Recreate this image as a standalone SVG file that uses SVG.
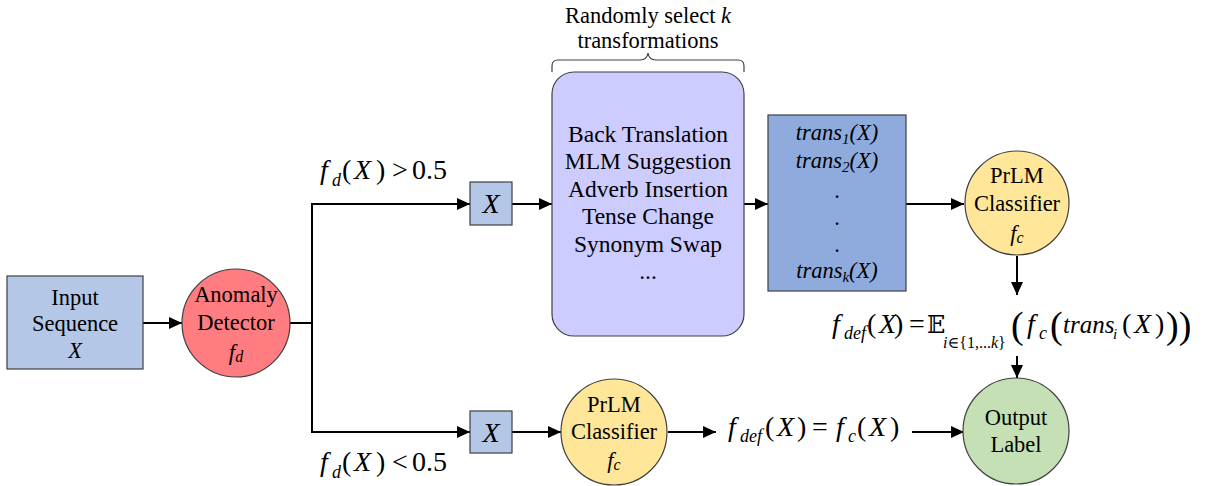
<svg xmlns="http://www.w3.org/2000/svg" width="1210" height="486" viewBox="0 0 1210 486">
<style>
  .t { font-family: 'Liberation Serif', 'Times New Roman', Times, 'DejaVu Serif', serif; font-size: 22.5px; fill: #000; text-anchor: middle; }
  .b { font-size: 23.5px; }
  .m { font-family: 'Liberation Serif', 'Times New Roman', Times, 'DejaVu Serif', serif; font-size: 28px; fill: #000; }
  .s { font-family: 'Liberation Serif', 'Times New Roman', Times, 'DejaVu Serif', serif; font-size: 18px; font-style: italic; fill: #000; }
  .i { font-style: italic; }
  .node { stroke: #404040; stroke-width: 1.2; }
  .conn { stroke: #000; stroke-width: 2; fill: none; }
  .arr { stroke: #000; stroke-width: 2; fill: none; marker-end: url(#ah); }
</style>
<defs>
  <marker id="ah" markerUnits="userSpaceOnUse" markerWidth="14" markerHeight="12" refX="13" refY="6" orient="auto">
    <path d="M0,0 L13,6 L0,12 Z" fill="#000"/>
  </marker>
</defs>
<rect width="1210" height="486" fill="#fff"/>

<g id="connectors">
  <line class="arr" x1="143" y1="323" x2="182" y2="323"/>
  <line class="conn" x1="290" y1="323" x2="312" y2="323"/>
  <line class="conn" x1="312" y1="203" x2="312" y2="433"/>
  <line class="arr" x1="311" y1="204" x2="470" y2="204"/>
  <line class="arr" x1="311" y1="432" x2="470" y2="432"/>
  <line class="arr" x1="512" y1="204" x2="552" y2="204"/>
  <line class="arr" x1="744" y1="204" x2="768" y2="204"/>
  <line class="arr" x1="906" y1="204" x2="964" y2="204"/>
  <line class="arr" x1="1017" y1="256" x2="1017" y2="295"/>
  <line class="arr" x1="1017" y1="356" x2="1017" y2="378"/>
  <line class="arr" x1="512" y1="432" x2="561" y2="432"/>
  <line class="arr" x1="668" y1="432" x2="716" y2="432"/>
  <line class="arr" x1="912" y1="432" x2="964" y2="432"/>
</g>

<g id="input">
  <rect class="node" x="7" y="276" width="136" height="93" fill="#b4c7e7"/>
  <text class="t" x="75" y="305">Input</text>
  <text class="t" x="75" y="331">Sequence</text>
  <text class="t i" x="75" y="358">X</text>
</g>

<g id="detector">
  <circle class="node" cx="236" cy="323" r="54" fill="#ff7c80"/>
  <text class="t" x="236" y="302">Anomaly</text>
  <text class="t" x="236" y="330">Detector</text>
  <text class="t i" x="236" y="360">f<tspan style="font-size:16px" dy="2">d</tspan></text>
</g>

<g id="label-gt">
  <text class="m i" x="320" y="179">f</text>
  <text class="s" x="332" y="186">d</text>
  <text class="m" x="342" y="179">(</text>
  <text class="m i" x="354" y="179">X</text>
  <text class="m" x="376" y="179">)</text>
  <text class="m" x="392" y="179">&gt;</text>
  <text class="m" x="412" y="179">0.5</text>
</g>

<g id="label-lt">
  <text class="m i" x="320" y="471">f</text>
  <text class="s" x="332" y="478">d</text>
  <text class="m" x="342" y="471">(</text>
  <text class="m i" x="354" y="471">X</text>
  <text class="m" x="376" y="471">)</text>
  <text class="m" x="392" y="471">&lt;</text>
  <text class="m" x="412" y="471">0.5</text>
</g>

<g id="x-top">
  <rect class="node" x="470" y="182" width="42" height="43" fill="#b4c7e7"/>
  <text class="m i" x="491" y="213" text-anchor="middle">X</text>
</g>

<g id="x-bottom">
  <rect class="node" x="470" y="411" width="42" height="42" fill="#b4c7e7"/>
  <text class="m i" x="491" y="442" text-anchor="middle">X</text>
</g>

<g id="transformations">
  <path d="M552,72 L552,66 Q552,60 558,60 L640,60 Q647,60 648,53 Q649,60 656,60 L738,60 Q744,60 744,66 L744,72" fill="none" stroke="#404040" stroke-width="1.2"/>
  <text class="t" x="648" y="23">Randomly select <tspan class="i">k</tspan></text>
  <text class="t" x="648" y="48">transformations</text>
  <rect class="node" x="552" y="72" width="192" height="264" rx="22" fill="#ccccff"/>
  <text class="t b" x="648" y="142">Back Translation</text>
  <text class="t b" x="648" y="169">MLM Suggestion</text>
  <text class="t b" x="648" y="197">Adverb Insertion</text>
  <text class="t b" x="648" y="224">Tense Change</text>
  <text class="t b" x="648" y="252">Synonym Swap</text>
  <text class="t b" x="648" y="279">...</text>
</g>

<g id="trans-outputs">
  <rect class="node" x="768" y="115" width="138" height="176" fill="#8faadc"/>
  <text class="t i" x="837" y="140">trans<tspan style="font-size:15px" dy="4">1</tspan><tspan dy="-4">(X)</tspan></text>
  <text class="t i" x="837" y="168">trans<tspan style="font-size:15px" dy="4">2</tspan><tspan dy="-4">(X)</tspan></text>
  <text class="t" x="837" y="198">.</text>
  <text class="t" x="837" y="225">.</text>
  <text class="t" x="837" y="252">.</text>
  <text class="t i" x="837" y="278">trans<tspan style="font-size:15px" dy="4">k</tspan><tspan dy="-4">(X)</tspan></text>
</g>

<g id="classifier-top">
  <circle class="node" cx="1017" cy="203" r="52" fill="#ffe699"/>
  <text class="t" x="1017" y="183">PrLM</text>
  <text class="t" x="1017" y="211">Classifier</text>
  <text class="t i" x="1017" y="241">f<tspan style="font-size:16px" dy="2">c</tspan></text>
</g>

<g id="formula-top">
  <text class="m i" x="832" y="333">f</text>
  <text class="s" x="844" y="339">def</text>
  <text class="m" x="867" y="333">(</text>
  <text class="m i" x="879" y="333">X</text>
  <text class="m" x="894" y="333">)</text>
  <text class="m" x="909" y="333">=</text>
  <text x="927" y="333" font-family="DejaVu Serif, DejaVu Sans, serif" font-size="24">𝔼</text>
  <text class="s" x="943" y="348" style="font-size:16px">i<tspan font-style="normal">∈{1,...</tspan>k<tspan font-style="normal">}</tspan></text>
  <text class="m" x="1011" y="338" style="font-size:38px">(</text>
  <text class="m i" x="1027" y="333">f</text>
  <text class="s" x="1039" y="339">c</text>
  <text class="m" x="1050" y="338" style="font-size:38px">(</text>
  <text class="m i" x="1063" y="333" style="font-size:25px">trans</text>
  <text class="s" x="1113" y="339" style="font-size:15px">i</text>
  <text class="m" x="1122" y="333">(</text>
  <text class="m i" x="1134" y="333">X</text>
  <text class="m" x="1155" y="333">)</text>
  <text class="m" x="1166" y="338" style="font-size:38px">))</text>
</g>

<g id="classifier-bottom">
  <circle class="node" cx="614" cy="432" r="53" fill="#ffe699"/>
  <text class="t" x="614" y="412">PrLM</text>
  <text class="t" x="614" y="439">Classifier</text>
  <text class="t i" x="614" y="468">f<tspan style="font-size:16px" dy="2">c</tspan></text>
</g>

<g id="formula-bottom">
  <text class="m i" x="728" y="436">f</text>
  <text class="s" x="740" y="442">def</text>
  <text class="m" x="765" y="436">(</text>
  <text class="m i" x="777" y="436">X</text>
  <text class="m" x="797" y="436">)</text>
  <text class="m" x="812" y="436">=</text>
  <text class="m i" x="836" y="436">f</text>
  <text class="s" x="848" y="442">c</text>
  <text class="m" x="857" y="436">(</text>
  <text class="m i" x="869" y="436">X</text>
  <text class="m" x="890" y="436">)</text>
</g>

<g id="output">
  <circle class="node" cx="1016" cy="431" r="53" fill="#c5e0b4"/>
  <text class="t" x="1016" y="425">Output</text>
  <text class="t" x="1016" y="452">Label</text>
</g>
</svg>
